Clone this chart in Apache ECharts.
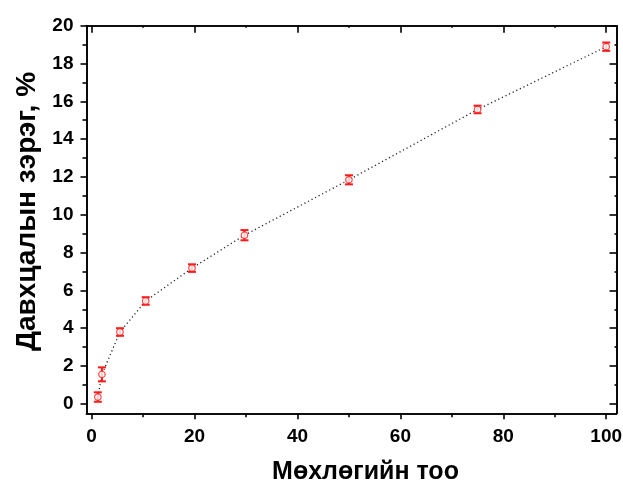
<!DOCTYPE html>
<html>
<head>
<meta charset="utf-8">
<script src="https://cdn.jsdelivr.net/npm/echarts@6/dist/echarts.min.js"></script>
<style>
  html, body { margin: 0; padding: 0; background: #fff; }
  #chart { width: 623px; height: 482px; }
</style>
</head>
<body>
<div id="chart"></div>
<script>
// values
const xValues = [1.2, 2.0, 5.5, 10.5, 19.5, 29.7, 50.0, 75.0, 100.0];
const yValues = [0.36, 1.56, 3.80, 5.44, 7.18, 8.92, 11.85, 15.57, 18.89];
const yErrors = [0.25, 0.37, 0.20, 0.20, 0.20, 0.27, 0.24, 0.20, 0.22];

const xMajor = [0, 20, 40, 60, 80, 100];
const xMinor = [10, 30, 50, 70, 90];
const yMajor = [0, 2, 4, 6, 8, 10, 12, 14, 16, 18, 20];
const yMinor = [1, 3, 5, 7, 9, 11, 13, 15, 17, 19];

const xTitle = 'Мөхлөгийн тоо';
const yTitle = 'Давхцалын зэрэг, %';

const points = xValues.map((x, i) => [x, yValues[i]]);
const errData = xValues.map((x, i) => [x, yValues[i] - yErrors[i], yValues[i] + yErrors[i]]);

const black = '#000';
const red = '#ff1a1a';
const fam = 'Liberation Sans, Arial, sans-serif';
const labelFont = { color: black, fontSize: 19, fontWeight: 'bold', fontFamily: fam };

function xAxisOf(pos, ticks, len, inside, labels, extra) {
  return Object.assign({
    type: 'value', position: pos, min: -1, max: 102,
    axisLine: { show: true, onZero: false, lineStyle: { color: black, width: 1.6 } },
    axisTick: { show: true, inside: inside, length: len, customValues: ticks, lineStyle: { color: black, width: 1.6 } },
    axisLabel: labels ? Object.assign({ margin: 14, customValues: ticks }, labelFont) : { show: false },
    splitLine: { show: false }
  }, extra || {});
}
function yAxisOf(pos, ticks, len, inside, labels, extra) {
  return Object.assign({
    type: 'value', position: pos, min: -0.5, max: 20,
    axisLine: { show: true, onZero: false, lineStyle: { color: black, width: 1.6 } },
    axisTick: { show: true, inside: inside, length: len, customValues: ticks, lineStyle: { color: black, width: 1.6 } },
    axisLabel: labels ? Object.assign({ margin: 13, customValues: ticks }, labelFont) : { show: false },
    splitLine: { show: false }
  }, extra || {});
}

const chart = echarts.init(document.getElementById('chart'));
chart.setOption({
  backgroundColor: '#fff',
  animation: false,
  grid: { left: 86.5, right: 6.5, top: 25.7, bottom: 68.7, outerBoundsMode: 'none', containLabel: false },
  xAxis: [
    xAxisOf('bottom', xMajor, 6, false, true, {
      name: xTitle, nameLocation: 'middle', nameGap: 46,
      nameTextStyle: { color: black, fontSize: 25, fontWeight: 'bold', fontFamily: fam, padding: [0, 0, 0, 28] }
    }),
    xAxisOf('bottom', xMinor, 4, false, false),
    xAxisOf('top', xMajor, 7, true, false),
    xAxisOf('top', xMinor, 2, true, false)
  ],
  yAxis: [
    yAxisOf('left', yMajor, 6, false, true, {
      name: yTitle, nameLocation: 'middle', nameGap: 43,
      nameTextStyle: { color: black, fontSize: 28, fontWeight: 'bold', fontFamily: fam, padding: [0, 0, 0, 16] }
    }),
    yAxisOf('left', yMinor, 4, false, false),
    yAxisOf('right', yMajor, 7, true, false),
    yAxisOf('right', yMinor, 2, true, false)
  ],
  series: [
    {
      type: 'line',
      data: points,
      symbol: 'none',
      lineStyle: { color: '#222', width: 1.3, type: [1.2, 2.8] },
      z: 1
    },
    {
      type: 'custom',
      data: errData,
      z: 2,
      renderItem: function (params, api) {
        const x = api.value(0);
        const lo = api.coord([x, api.value(1)]);
        const hi = api.coord([x, api.value(2)]);
        const cap = 4;
        const style = { stroke: red, lineWidth: 2 };
        return {
          type: 'group',
          children: [
            { type: 'line', shape: { x1: lo[0], y1: lo[1], x2: hi[0], y2: hi[1] }, style: style },
            { type: 'line', shape: { x1: lo[0] - cap, y1: lo[1], x2: lo[0] + cap, y2: lo[1] }, style: style },
            { type: 'line', shape: { x1: hi[0] - cap, y1: hi[1], x2: hi[0] + cap, y2: hi[1] }, style: style }
          ]
        };
      }
    },
    {
      type: 'scatter',
      data: points,
      symbol: 'circle',
      symbolSize: 6.5,
      itemStyle: { color: '#fff', borderColor: red, borderWidth: 1.2 },
      z: 3
    }
  ]
});
</script>
</body>
</html>
